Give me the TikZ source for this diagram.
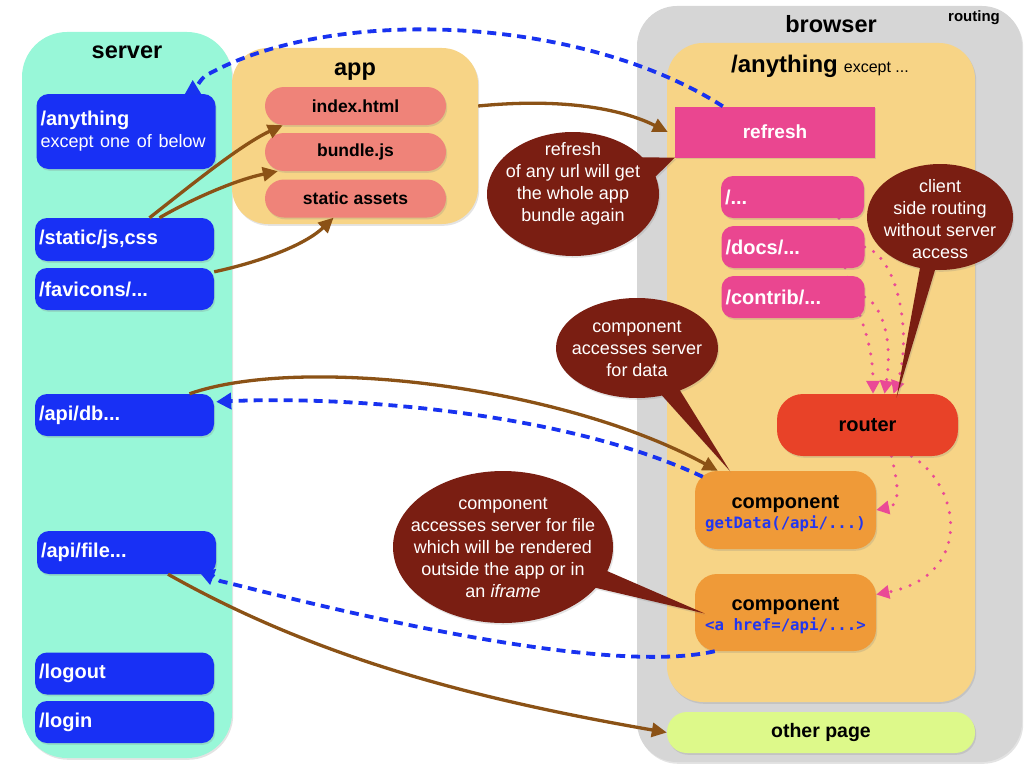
\documentclass[tikz,border=0pt]{standalone}
\usepackage{fontspec}
\setmainfont{Liberation Sans}
\newfontfamily\codefont{DejaVu Sans Mono}
\usetikzlibrary{shapes.callouts,shadows,arrows.meta}
\pgfdeclarelayer{panels}
\pgfdeclarelayer{lines}
\pgfsetlayers{panels,lines,main}
\definecolor{mint}{RGB}{152,247,216}
\definecolor{srvblue}{RGB}{24,48,245}
\definecolor{appyel}{RGB}{247,212,134}
\definecolor{salmon}{RGB}{239,131,121}
\definecolor{panelgray}{RGB}{214,214,214}
\definecolor{hotpink}{RGB}{234,70,144}
\definecolor{routerred}{RGB}{232,66,40}
\definecolor{comporange}{RGB}{239,154,56}
\definecolor{lime}{RGB}{221,249,138}
\definecolor{calloutred}{RGB}{122,30,18}
\definecolor{arrowbrown}{RGB}{139,82,22}
\definecolor{dashblue}{RGB}{24,50,240}
\definecolor{dotpink}{RGB}{234,74,150}
\definecolor{codeblue}{RGB}{34,54,240}
\tikzset{
  shadowed/.style={drop shadow={opacity=0.22, shadow xshift=1.2pt, shadow yshift=-1.8pt}},
  panel/.style={rounded corners=#1, inner sep=0pt, shadowed},
  ptitle/.style={font=\bfseries\fontsize{23.5}{28}\selectfont, inner sep=0pt},
  srv/.style={fill=srvblue, rounded corners=12pt, text=white, font=\bfseries\fontsize{20}{24}\selectfont,
    text width=171pt, inner xsep=4pt, inner ysep=0pt, align=left, minimum height=42pt, shadowed},
  pill/.style={fill=salmon, rounded corners=19pt, minimum width=181pt, minimum height=38pt,
    font=\bfseries\fontsize{17.5}{21}\selectfont, inner sep=0pt, shadowed},
  refreshbox/.style={fill=hotpink, minimum width=200pt, minimum height=51pt, text=white,
    font=\bfseries\fontsize{19}{23}\selectfont, inner sep=0pt, shadowed},
  route/.style={fill=hotpink, rounded corners=12pt, text=white, font=\bfseries\fontsize{20}{24}\selectfont,
    text width=135pt, inner xsep=4pt, inner ysep=0pt, align=left, minimum height=42pt, shadowed},
  routerbox/.style={fill=routerred, rounded corners=26pt, minimum width=181pt, minimum height=62pt,
    font=\bfseries\fontsize{20}{24}\selectfont, inner sep=0pt, shadowed},
  comp/.style={fill=comporange, rounded corners=22pt, minimum width=181pt, minimum height=78pt,
    align=center, inner sep=0pt, font=\bfseries\fontsize{20}{24}\selectfont, shadowed},
  otherbox/.style={fill=lime, rounded corners=20pt, minimum width=308pt, minimum height=41pt,
    font=\bfseries\fontsize{19.5}{23}\selectfont, inner sep=0pt, shadowed},
  bubble/.style={ellipse callout, fill=calloutred, inner sep=0pt, callout pointer arc=16, shadowed},
  bubbletext/.style={text=white, align=center, font=\fontsize{18}{22}\selectfont, inner sep=0pt},
  brownarrow/.style={draw=arrowbrown, line width=3.3pt, -{Triangle[length=15pt,width=14pt]}},
  bluedash/.style={draw=dashblue, line width=3.8pt, dash pattern=on 9pt off 6pt, -{Triangle[length=15pt,width=16pt]}},
  pinkdot/.style={draw=dotpink, line width=3.4pt, line cap=round, dash pattern=on 0pt off 10pt, -{Triangle[length=13pt,width=13pt]}}
}
\newcommand\codeline[1]{{\codefont\bfseries\fontsize{15.7}{18}\selectfont\color{codeblue}#1}}
\begin{document}
\begin{tikzpicture}[x=1pt,y=-1pt]
\useasboundingbox (0,0) rectangle (1024,768);
\begin{pgfonlayer}{panels}
\node[panel=45pt, fill=mint, minimum width=210pt, minimum height=726pt] (server) at (127,395) {};
\node[panel=36pt, fill=appyel, minimum width=246pt, minimum height=176pt] (app) at (355,136) {};
\node[panel=40pt, fill=panelgray, minimum width=385pt, minimum height=756pt] (browser) at (829.5,384) {};
\node[panel=36pt, fill=appyel, minimum width=308pt, minimum height=659pt] (page) at (821,372.5) {};
\end{pgfonlayer}
% titles
\node[ptitle, anchor=base] (tServer) at (127,59) {server};
\node[ptitle, anchor=base] (tApp) at (355,75) {app};
\node[ptitle, anchor=base] (tBrowser) at (831,33) {browser};
\node[font=\bfseries\fontsize{15}{18}\selectfont, anchor=base, inner sep=0pt] (tRouting) at (974,22) {routing};
\node[anchor=base, inner sep=0pt] (tPage) at (820,72) {{\bfseries\fontsize{24}{28}\selectfont /anything}\hspace{6pt}{\fontsize{16}{20}\selectfont except ...}};
% server routes
\node[srv, minimum height=75pt] (sAny) at (126,131.5) {/anything\\[-2pt]{\mdseries\fontsize{18}{22}\selectfont except one of below}};
\node[srv, minimum height=43pt] (sStatic) at (124.5,239.5) {/static/js,css};
\node[srv] (sFav) at (124.5,289) {/favicons/...};
\node[srv] (sApiDb) at (124.5,415) {/api/db...};
\node[srv, minimum height=43pt] (sApiFile) at (126.5,552.5) {/api/file...};
\node[srv] (sLogout) at (124.5,673.5) {/logout};
\node[srv] (sLogin) at (124.5,722) {/login};
% app
\node[pill] (idx) at (355.5,106) {index.html};
\node[pill] (bundle) at (355.5,152) {bundle.js};
\node[pill] (assets) at (355.5,198.5) {static assets};
% browser
\node[refreshbox] (refresh) at (775,132) {refresh};
\node[route] (rRoot) at (792.5,197) {/...};
\node[route] (rDocs) at (793,247) {/docs/...};
\node[route] (rContrib) at (793,297) {/contrib/...};
\node[routerbox] (router) at (867.5,425) {router};
\node[comp] (comp1) at (785.5,510) {\rule{0pt}{20pt}component\\[-4pt]\codeline{getData(/api/...)}};
\node[comp, minimum height=77pt] (comp2) at (785.5,612.5) {\rule{0pt}{20pt}component\\[-4pt]\codeline{<a href=/api/...>}};
\node[otherbox] (other) at (821,732.5) {other page};
% dotted client-side routing
\begin{pgfonlayer}{lines}
\draw[pinkdot] ([xshift=46.5pt]rRoot.south) .. controls (842,300) and (873,320) .. ([xshift=5.5pt]router.north);
\draw[pinkdot] (rDocs.east) .. controls (900,258) and (912,340) .. ([xshift=26pt]router.north);
\draw[pinkdot] (rContrib.east) .. controls (882,305) and (893,340) .. ([xshift=17pt]router.north);
\draw[pinkdot] ([xshift=24pt]router.south) .. controls (897,480) and (902,505) .. (comp1.east);
\draw[pinkdot] ([xshift=44pt]router.south) .. controls (960,485) and (975,575) .. ([yshift=18pt]comp2.east);
\end{pgfonlayer}
% brown requests
\draw[brownarrow] ([xshift=25pt]sStatic.north) .. controls (185,190) and (240,145) .. ([xshift=18pt]idx.south west);
\draw[brownarrow] ([xshift=35pt]sStatic.north) .. controls (190,200) and (235,180) .. ([xshift=13pt]bundle.south west);
\draw[brownarrow] ([yshift=-4pt]sFav.north east) .. controls (260,262) and (305,245) .. ([xshift=-22pt]assets.south);
\draw[brownarrow] ([yshift=30pt]app.east) .. controls (560,98) and (620,108) .. ([xshift=-7pt]refresh.west);
\draw[brownarrow] ([xshift=65pt]sApiDb.north) .. controls (300,355) and (560,385) .. ([xshift=23pt]comp1.north west);
\draw[brownarrow] ([xshift=41.5pt]sApiFile.south) .. controls (320,660) and (480,700) .. (other.west);
% blue dashed
\draw[bluedash] ([xshift=48pt]refresh.north west) .. controls (580,15) and (330,5) .. (205,76)
   .. controls (196,84) and (193,96) .. ([xshift=-23pt,yshift=14pt]sAny.north east);
\draw[bluedash] ([xshift=8pt,yshift=-6pt]comp1.north west) .. controls (560,410) and (340,396) .. ([xshift=2pt,yshift=-8pt]sApiDb.north east);
\draw[bluedash] ([xshift=20pt]comp2.south west) .. controls (590,680) and (260,590) .. (220,581)
   .. controls (208,574) and (207,566) .. ([xshift=-6pt,yshift=-11pt]sApiFile.south east);
% callouts
\node[bubble, minimum width=172pt, minimum height=124pt, callout pointer arc=20,
  callout absolute pointer={(refresh.south west)}] (bRefresh) at (573,194) {};
\node[bubbletext] (btRefresh) at (573,184) {refresh\\of any url will get\\the whole app\\bundle again};
\node[bubble, minimum width=146pt, minimum height=106pt, callout pointer arc=12,
  callout absolute pointer={([xshift=29pt,yshift=-4pt]router.north)}] (bClient) at (940,217) {};
\node[bubbletext] (btClient) at (940,219) {client\\side routing\\without server\\access};
\node[bubble, minimum width=162pt, minimum height=100pt, callout pointer arc=14,
  callout absolute pointer={([xshift=35pt]comp1.north west)}] (bData) at (637,348) {};
\node[bubbletext] (btData) at (637,349) {component\\accesses server\\for data};
\node[bubble, minimum width=220pt, minimum height=152pt, callout pointer arc=14,
  callout absolute pointer={([xshift=10pt,yshift=-1pt]comp2.west)}] (bFile) at (503,547) {};
\node[bubbletext] (btFile) at (503,548) {component\\accesses server for file\\which will be rendered\\outside the app or in\\an \textit{iframe}};
\end{tikzpicture}
\end{document}
